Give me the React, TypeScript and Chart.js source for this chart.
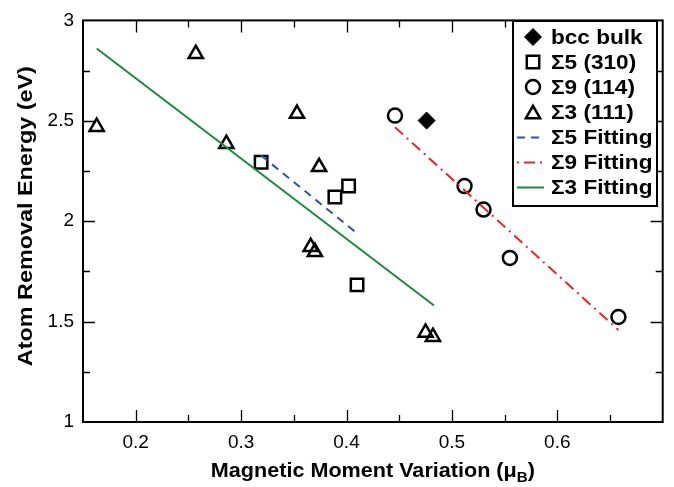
import React, { useEffect, useRef } from "react";
import { Chart, registerables } from "chart.js";

Chart.register(...registerables);

// ---------- data ----------
const bccX = [0.476];
const bccY = [2.501];

const s5X = [0.319, 0.389, 0.402, 0.41];
const s5Y = [2.294, 2.121, 2.175, 1.683];

const s9X = [0.446, 0.512, 0.53, 0.555, 0.658];
const s9Y = [2.526, 2.175, 2.058, 1.817, 1.523];

const s3X = [0.163, 0.257, 0.286, 0.353, 0.374, 0.366, 0.37, 0.475, 0.482];
const s3Y = [2.47, 2.833, 2.385, 2.535, 2.27, 1.872, 1.847, 1.445, 1.424];

const fit5X = [0.319, 0.409];
const fit5Y = [2.327, 1.944];
const fit9X = [0.446, 0.658];
const fit9Y = [2.468, 1.458];
const fit3X = [0.163, 0.483];
const fit3Y = [2.86, 1.58];

const xTicks = [0.2, 0.3, 0.4, 0.5, 0.6];
const xMinorTicks = [0.25, 0.35, 0.45, 0.55, 0.65];
const yTicks = [1, 1.5, 2, 2.5, 3];
const yMinorTicks = [1.25, 1.75, 2.25, 2.75];

const legendLabels = [
  "bcc bulk",
  "\u03A35 (310)",
  "\u03A39 (114)",
  "\u03A33 (111)",
  "\u03A35 Fitting",
  "\u03A39 Fitting",
  "\u03A33 Fitting",
];

const xTitle = "Magnetic Moment Variation (\u03BC";
const xTitleSub = "B";
const yTitle = "Atom Removal Energy (eV)";

// ---------- styles ----------
const BLUE = "#3352ad";
const RED = "#ec2424";
const GREEN = "#1b8a3e";
const DASH5 = [8, 6];
const DASH9 = [11, 5, 2, 5];
const R_SQ = 8.8;
const R_CIR = 7;
const R_TRI = 8.2;
const R_DIA = 8.5;

const zip = (xs: number[], ys: number[]) => xs.map((x, i) => ({ x, y: ys[i] }));

function drawMarker(ctx: CanvasRenderingContext2D, kind: string, x: number, y: number) {
  ctx.save();
  ctx.strokeStyle = "#000";
  ctx.fillStyle = "#000";
  ctx.lineWidth = 2.5;
  ctx.setLineDash([]);
  ctx.beginPath();
  if (kind === "diamond") {
    ctx.moveTo(x - R_DIA, y);
    ctx.lineTo(x, y - R_DIA);
    ctx.lineTo(x + R_DIA, y);
    ctx.lineTo(x, y + R_DIA);
    ctx.closePath();
    ctx.lineWidth = 1;
    ctx.fill();
    ctx.stroke();
  } else if (kind === "square") {
    const s = R_SQ * Math.SQRT1_2;
    ctx.rect(x - s, y - s, 2 * s, 2 * s);
    ctx.stroke();
  } else if (kind === "circle") {
    ctx.arc(x, y, R_CIR, 0, Math.PI * 2);
    ctx.stroke();
  } else if (kind === "triangle") {
    const yc = y + R_TRI / 4;
    ctx.moveTo(x, yc - R_TRI);
    ctx.lineTo(x + R_TRI * 0.866, yc + R_TRI / 2);
    ctx.lineTo(x - R_TRI * 0.866, yc + R_TRI / 2);
    ctx.closePath();
    ctx.stroke();
  }
  ctx.restore();
}

const decorPlugin = {
  id: "decor",
  afterDraw(chart: any) {
    const ctx: CanvasRenderingContext2D = chart.ctx;
    const { left, right, top, bottom } = chart.chartArea;
    const xs = chart.scales.x;
    const ys = chart.scales.y;
    ctx.save();

    // frame
    ctx.strokeStyle = "#000";
    ctx.lineWidth = 2;
    ctx.setLineDash([]);
    ctx.strokeRect(left, top, right - left, bottom - top);

    // inward ticks on all four sides
    const MAJ = 12;
    const MIN = 7;
    ctx.lineWidth = 1.3;
    ctx.beginPath();
    const xt = (v: number, len: number) => {
      const px = Math.round(xs.getPixelForValue(v)) + 0.5;
      ctx.moveTo(px, bottom);
      ctx.lineTo(px, bottom - len);
      ctx.moveTo(px, top);
      ctx.lineTo(px, top + len);
    };
    const yt = (v: number, len: number) => {
      const py = Math.round(ys.getPixelForValue(v)) + 0.5;
      ctx.moveTo(left, py);
      ctx.lineTo(left + len, py);
      ctx.moveTo(right, py);
      ctx.lineTo(right - len, py);
    };
    xTicks.forEach((v) => xt(v, MAJ));
    xMinorTicks.forEach((v) => xt(v, MIN));
    yTicks.slice(1, -1).forEach((v) => yt(v, MAJ));
    yMinorTicks.forEach((v) => yt(v, MIN));
    ctx.stroke();

    ctx.fillStyle = "#000";
    const boldFont = (s: number) => `bold ${s}px "Liberation Sans", Arial, sans-serif`;

    // x title with subscript
    {
      const cx = (left + right) / 2;
      const target = 324;
      ctx.font = boldFont(20);
      const w1 = ctx.measureText(xTitle).width;
      const w3 = ctx.measureText(")").width;
      ctx.font = boldFont(14);
      const w2 = ctx.measureText(xTitleSub).width;
      const sx = target / (w1 + w2 + w3);
      const x0 = cx - target / 2;
      const base = 477;
      ctx.save();
      ctx.translate(x0, base);
      ctx.scale(sx, 1);
      ctx.textAlign = "left";
      ctx.textBaseline = "alphabetic";
      ctx.font = boldFont(20);
      ctx.fillText(xTitle, 0, 0);
      ctx.font = boldFont(14);
      ctx.fillText(xTitleSub, w1, 5);
      ctx.font = boldFont(20);
      ctx.fillText(")", w1 + w2, 0);
      ctx.restore();
    }

    // y title
    {
      const cy = (top + bottom) / 2;
      ctx.font = boldFont(21);
      const w = ctx.measureText(yTitle).width;
      const sx = 300 / w;
      ctx.save();
      ctx.translate(32, cy - 5);
      ctx.rotate(-Math.PI / 2);
      ctx.scale(sx, 1);
      ctx.textAlign = "center";
      ctx.textBaseline = "alphabetic";
      ctx.fillText(yTitle, 0, 0);
      ctx.restore();
    }

    // legend
    {
      const bx = 513;
      const by = 21;
      const bw = 144;
      const bh = 185;
      ctx.fillStyle = "#fff";
      ctx.fillRect(bx, by, bw, bh);
      ctx.strokeStyle = "#000";
      ctx.lineWidth = 2;
      ctx.setLineDash([]);
      ctx.strokeRect(bx, by, bw, bh);

      const rows = [37, 62, 87, 112, 137, 162, 187];
      const kinds = ["diamond", "square", "circle", "triangle", "l5", "l9", "l3"];
      const symX = 533;
      kinds.forEach((k, i) => {
        const ry = rows[i];
        if (k === "l5" || k === "l9" || k === "l3") {
          ctx.save();
          ctx.lineWidth = 2;
          ctx.strokeStyle = k === "l5" ? BLUE : k === "l9" ? RED : GREEN;
          ctx.setLineDash(k === "l5" ? DASH5 : k === "l9" ? [2, 5, 11, 5] : []);
          ctx.beginPath();
          ctx.moveTo(517, ry + 0.5);
          ctx.lineTo(544, ry + 0.5);
          ctx.stroke();
          ctx.restore();
        } else {
          drawMarker(ctx, k, symX, ry);
        }
        ctx.save();
        ctx.fillStyle = "#000";
        ctx.font = boldFont(20);
        ctx.textAlign = "left";
        ctx.textBaseline = "alphabetic";
        ctx.translate(551, ry + 7);
        ctx.scale(1.13, 1);
        ctx.fillText(legendLabels[i], 0, 0);
        ctx.restore();
      });
    }

    ctx.restore();
  },
};

export default function App() {
  const ref = useRef<HTMLCanvasElement | null>(null);

  useEffect(() => {
    if (!ref.current) return;
    const lineDs = (label: string, xs: number[], ys: number[], color: string, dash: number[]) => ({
      label,
      data: zip(xs, ys),
      showLine: true,
      borderColor: color,
      backgroundColor: color,
      borderWidth: 2,
      borderDash: dash,
      pointRadius: 0,
      pointHoverRadius: 0,
      fill: false,
    });
    const markerDs = (label: string, xs: number[], ys: number[], style: string, r: number, filled: boolean) => ({
      label,
      data: zip(xs, ys),
      showLine: false,
      pointStyle: style,
      pointRadius: r,
      pointHoverRadius: r,
      borderColor: "#000",
      backgroundColor: filled ? "#000" : "rgba(0,0,0,0)",
      borderWidth: filled ? 1 : 2.5,
    });

    const tickFont = { family: '"Liberation Sans", Arial, sans-serif', size: 19 };

    const chart = new Chart(ref.current, {
      type: "scatter",
      data: {
        datasets: [
          lineDs("\u03A35 Fitting", fit5X, fit5Y, BLUE, DASH5),
          lineDs("\u03A39 Fitting", fit9X, fit9Y, RED, DASH9),
          lineDs("\u03A33 Fitting", fit3X, fit3Y, GREEN, []),
          markerDs("bcc bulk", bccX, bccY, "rectRot", R_DIA, true),
          markerDs("\u03A35 (310)", s5X, s5Y, "rect", R_SQ, false),
          markerDs("\u03A39 (114)", s9X, s9Y, "circle", R_CIR, false),
          markerDs("\u03A33 (111)", s3X, s3Y, "triangle", R_TRI, false),
        ] as any,
      },
      options: {
        responsive: false,
        animation: false,
        devicePixelRatio: 1,
        layout: { padding: { top: 13, right: 9, left: 0, bottom: 0 } },
        plugins: { legend: { display: false }, tooltip: { enabled: false }, title: { display: false } },
        scales: {
          x: {
            type: "linear",
            min: 0.15,
            max: 0.7,
            grid: { display: false, drawTicks: false },
            border: { display: false },
            afterBuildTicks: (s: any) => {
              s.ticks = xTicks.map((v) => ({ value: v }));
            },
            afterFit: (s: any) => {
              s.height = 65;
            },
            ticks: {
              autoSkip: false,
              maxRotation: 0,
              padding: 9,
              color: "#000",
              font: tickFont,
              callback: (v: any) => Number(v).toFixed(1),
            },
          },
          y: {
            type: "linear",
            min: 1,
            max: 3,
            grid: { display: false, drawTicks: false },
            border: { display: false },
            afterBuildTicks: (s: any) => {
              s.ticks = yTicks.map((v) => ({ value: v }));
            },
            afterFit: (s: any) => {
              s.width = 83;
            },
            ticks: {
              autoSkip: false,
              padding: 9,
              color: "#000",
              font: tickFont,
              callback: (v: any) => String(Number(v)),
            },
          },
        },
      } as any,
      plugins: [decorPlugin],
    });
    return () => chart.destroy();
  }, []);

  return (
    <div style={{ position: "fixed", left: 0, top: 0, width: 674, height: 487, background: "#fff" }}>
      <canvas ref={ref} width={674} height={487} style={{ display: "block", width: 674, height: 487 }} />
    </div>
  );
}
